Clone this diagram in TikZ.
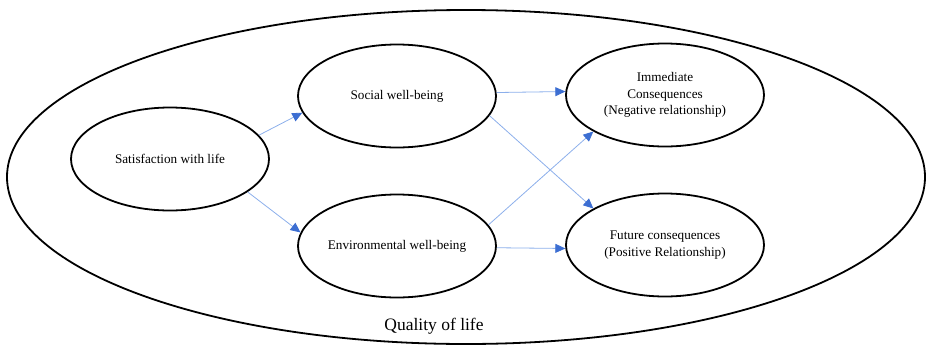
\documentclass[tikz,border=0pt]{standalone}
\usepackage{fontspec}
\setmainfont{Liberation Serif}
\usetikzlibrary{shapes.geometric,arrows.meta}
\definecolor{arrline}{RGB}{140,175,235}
\definecolor{arrhead}{RGB}{60,110,210}
\tikzset{
  bubble/.style={ellipse,draw=black,line width=1.8pt,minimum width=198pt,minimum height=103pt,inner sep=0pt,align=center,font=\fontsize{13.2}{16.5}\selectfont},
  flow/.style={draw=arrline,line width=0.8pt,-{Triangle[length=10pt,width=9pt,color=arrhead,fill=arrhead]}}
}
\begin{document}
\begin{tikzpicture}[x=1pt,y=-1pt]
\useasboundingbox (0,0) rectangle (926,346);
\node[ellipse,draw=black,line width=1.8pt,minimum width=918pt,minimum height=334pt,inner sep=0pt] (qol) at (466,177) {};
\node[font=\fontsize{17.5}{20}\selectfont] (qlabel) at (434,326) {Quality of life};
\node[bubble] (sat) at (170,159) {Satisfaction with life};
\node[bubble] (soc) at (397,96) {Social well-being};
\node[bubble] (env) at (397,246) {Environmental well-being};
\node[bubble] (imm) at (665,95) {Immediate\\Consequences\\(Negative relationship)};
\node[bubble] (fut) at (665,245) {Future consequences\\(Positive Relationship)};
\draw[flow] (sat.15) -- (soc.190);
\draw[flow] (sat.337) -- (env.172);
\draw[flow] (soc.2) -- (imm.178);
\draw[flow] (soc.348) -- (fut.153);
\draw[flow] (env.13) -- (imm.207);
\draw[flow] (env.359) -- (fut.182);
\end{tikzpicture}
\end{document}
